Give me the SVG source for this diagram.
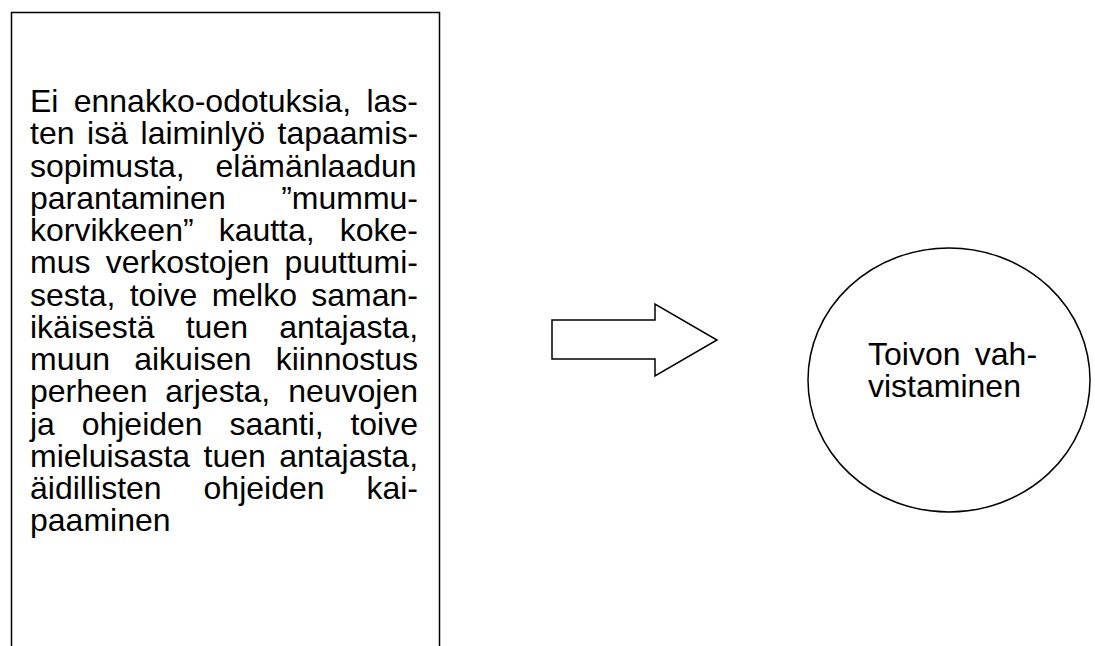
<svg xmlns="http://www.w3.org/2000/svg" width="1095" height="646" viewBox="0 0 1095 646">
<style>
.shape{fill:#ffffff;stroke:#000000;stroke-width:1.5}
.arrow{fill:#ffffff;stroke:#000000;stroke-width:1.5;stroke-linejoin:miter}
.t{font-family:"Liberation Sans",Arial,sans-serif;font-size:32px;fill:#000000}
</style>
<rect width="1095" height="646" fill="#ffffff"/>
<g id="node-left-box">
<path class="shape" d="M11.5,700 V12.5 H439.5 V700"/>
<text class="t">
<tspan x="30" y="112">Ei</tspan><tspan x="73.71" y="112">ennakko-odotuksia,</tspan><tspan x="366.45" y="112">las-</tspan>
<tspan x="30" y="144.25">ten</tspan><tspan x="87.05" y="144.25">isä</tspan><tspan x="140.52" y="144.25">laiminlyö</tspan><tspan x="277.54" y="144.25">tapaamis-</tspan>
<tspan x="30" y="176.5">sopimusta,</tspan><tspan x="215.54" y="176.5">elämänlaadun</tspan>
<tspan x="30" y="208.75">parantaminen</tspan><tspan x="281.14" y="208.75">”mummu-</tspan>
<tspan x="30" y="241">korvikkeen”</tspan><tspan x="218.64" y="241">kautta,</tspan><tspan x="339.76" y="241">koke-</tspan>
<tspan x="30" y="273.25">mus</tspan><tspan x="105.73" y="273.25">verkostojen</tspan><tspan x="284.62" y="273.25">puuttumi-</tspan>
<tspan x="30" y="305.5">sesta,</tspan><tspan x="129.72" y="305.5">toive</tspan><tspan x="211.64" y="305.5">melko</tspan><tspan x="311.31" y="305.5">saman-</tspan>
<tspan x="30" y="337.75">ikäisestä</tspan><tspan x="185.73" y="337.75">tuen</tspan><tspan x="279.25" y="337.75">antajasta,</tspan>
<tspan x="30" y="370">muun</tspan><tspan x="134.19" y="370">aikuisen</tspan><tspan x="275.73" y="370">kiinnostus</tspan>
<tspan x="30" y="402.25">perheen</tspan><tspan x="165.31" y="402.25">arjesta,</tspan><tspan x="288.14" y="402.25">neuvojen</tspan>
<tspan x="30" y="434.5">ja</tspan><tspan x="81.66" y="434.5">ohjeiden</tspan><tspan x="229.38" y="434.5">saanti,</tspan><tspan x="350.42" y="434.5">toive</tspan>
<tspan x="30" y="466.75">mieluisasta</tspan><tspan x="203.51" y="466.75">tuen</tspan><tspan x="279.25" y="466.75">antajasta,</tspan>
<tspan x="30" y="499">äidillisten</tspan><tspan x="203.54" y="499">ohjeiden</tspan><tspan x="366.45" y="499">kai-</tspan>
<tspan x="30" y="531.25">paaminen</tspan>
</text>
</g>
<g id="connectors">
<polygon class="arrow" points="552,320 655,320 655,304 717,340 655,376 655,359 552,359"/>
</g>
<g id="node-circle">
<ellipse class="shape" cx="949" cy="380" rx="141" ry="132"/>
<text class="t">
<tspan x="868" y="365">Toivon</tspan><tspan x="974.8" y="365">vah-</tspan>
<tspan x="868" y="397.25">vistaminen</tspan>
</text>
</g>
</svg>
